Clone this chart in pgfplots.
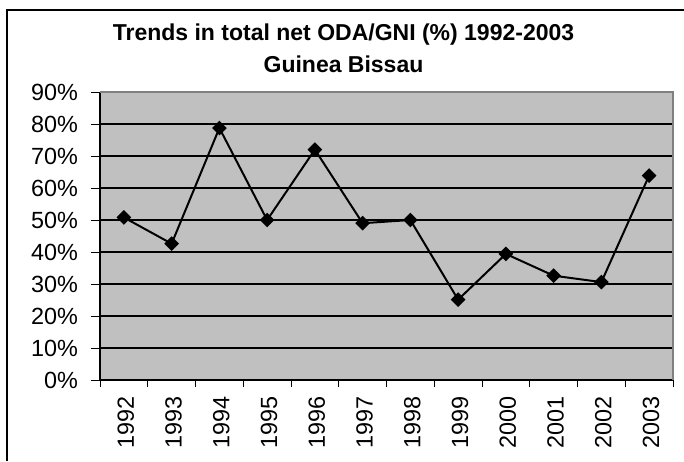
\documentclass[border=0pt]{standalone}
\usepackage{pgfplots}
\pgfplotsset{compat=1.18}
\usepackage{fontspec}
\setmainfont{Liberation Sans}
\definecolor{plotbg}{RGB}{192,192,192}
\definecolor{bordergray}{RGB}{128,128,128}
\begin{document}
\begin{tikzpicture}
\useasboundingbox (-50pt,-40.5pt) rectangle (292pt,190pt);
\draw[black, line width=0.6pt] (292pt,185pt) -- (-46.5pt,185pt) -- (-46.5pt,-40.5pt);
\begin{axis}[
  at={(0,0)}, anchor=south west,
  width=286.5pt, height=144pt, scale only axis,
  xmin=-0.5, xmax=11.5, ymin=0, ymax=90,
  axis x line*=bottom, axis y line*=left,
  axis line style={black, line width=0.6pt, -},
  axis background/.style={fill=plotbg},
  tick align=outside,
  xtick={0,1,2,3,4,5,6,7,8,9,10,11},
  xticklabels={1992,1993,1994,1995,1996,1997,1998,1999,2000,2001,2002,2003},
  major x tick style={draw=none},
  minor xtick={-0.5,0.5,1.5,2.5,3.5,4.5,5.5,6.5,7.5,8.5,9.5,10.5,11.5},
  minor x tick style={black, line width=0.5pt},
  minor tick length=3.5pt,
  major tick length=4.5pt,
  ytick={0,10,20,30,40,50,60,70,80,90},
  yticklabels={0\%,10\%,20\%,30\%,40\%,50\%,60\%,70\%,80\%,90\%},
  major y tick style={black, line width=0.5pt},
  ymajorgrids,
  major grid style={black, line width=0.6pt},
  xticklabel style={rotate=90, anchor=east, yshift=-1pt, font=\fontsize{11.7}{13}\selectfont},
  yticklabel style={xshift=-3pt, font=\fontsize{11.7}{13}\selectfont},
  clip=false,
]
\draw[bordergray, line width=1pt] (rel axis cs:0,1) -- (rel axis cs:1,1) -- (rel axis cs:1,0);
\addplot[black, line width=1pt, mark=square*, mark size=2.1pt, mark options={solid, fill=black, rotate=45}]
coordinates {
(0,50.8) (1,42.6) (2,78.75) (3,50.0) (4,72.0) (5,49.0)
(6,50.0) (7,25.1) (8,39.4) (9,32.6) (10,30.6) (11,63.9)
};
\end{axis}
\node[font=\bfseries\fontsize{11.5}{14}\selectfont, anchor=base] at (121.75pt,169.5pt) {Trends in total net ODA/GNI (\%) 1992-2003};
\node[font=\bfseries\fontsize{11.5}{14}\selectfont, anchor=base] at (121.75pt,153.5pt) {Guinea Bissau};
\end{tikzpicture}
\end{document}
